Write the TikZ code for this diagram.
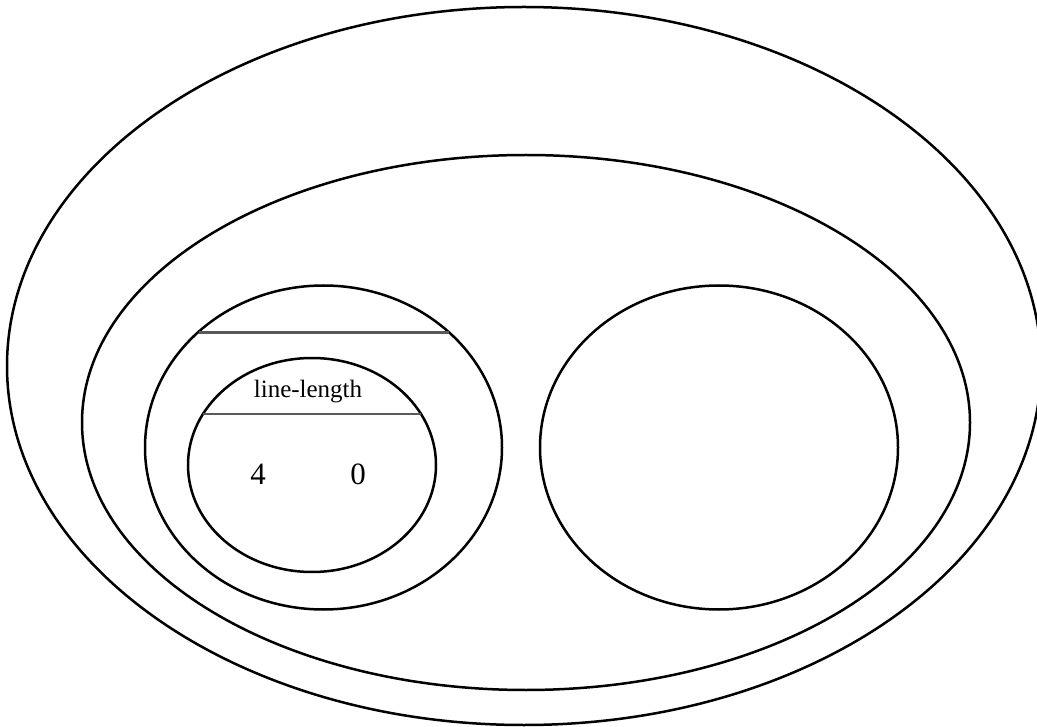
\documentclass[tikz,border=0pt]{standalone}
\usepackage{fontspec}
\setmainfont{Liberation Serif}
\usetikzlibrary{shapes.geometric}
\begin{document}
\begin{tikzpicture}[x=1pt,y=-1pt,
  oval/.style={draw=black,line width=2.5pt,ellipse,inner sep=0pt,outer sep=0pt},
  chord/.style={draw=black!65,line width=2.2pt},
  lbl/.style={inner sep=0pt,text=black}]
\useasboundingbox (0,0) rectangle (1037,727);
\node[oval,minimum width=1034pt,minimum height=718pt] (outer) at (524,366) {};
\node[oval,minimum width=888pt,minimum height=535pt] (mid) at (526,422.5) {};
\node[oval,minimum width=357pt,minimum height=324pt] (left) at (323.5,447.5) {};
\node[oval,minimum width=358pt,minimum height=324pt] (right) at (719,447.5) {};
\node[oval,minimum width=248pt,minimum height=214pt] (inner) at (312,465) {};
\draw[chord] (left.center) ++(-125,-115) -- ++(250,0);
\draw[chord] (inner.center) ++(-109,-51) -- ++(218,0);
\node[lbl,font=\fontsize{25}{30}\selectfont] (ll) at (308,392) {line-length};
\node[lbl,font=\fontsize{31}{36}\selectfont] (four) at (258,474) {4};
\node[lbl,font=\fontsize{31}{36}\selectfont] (zero) at (358,474) {0};
\end{tikzpicture}
\end{document}
